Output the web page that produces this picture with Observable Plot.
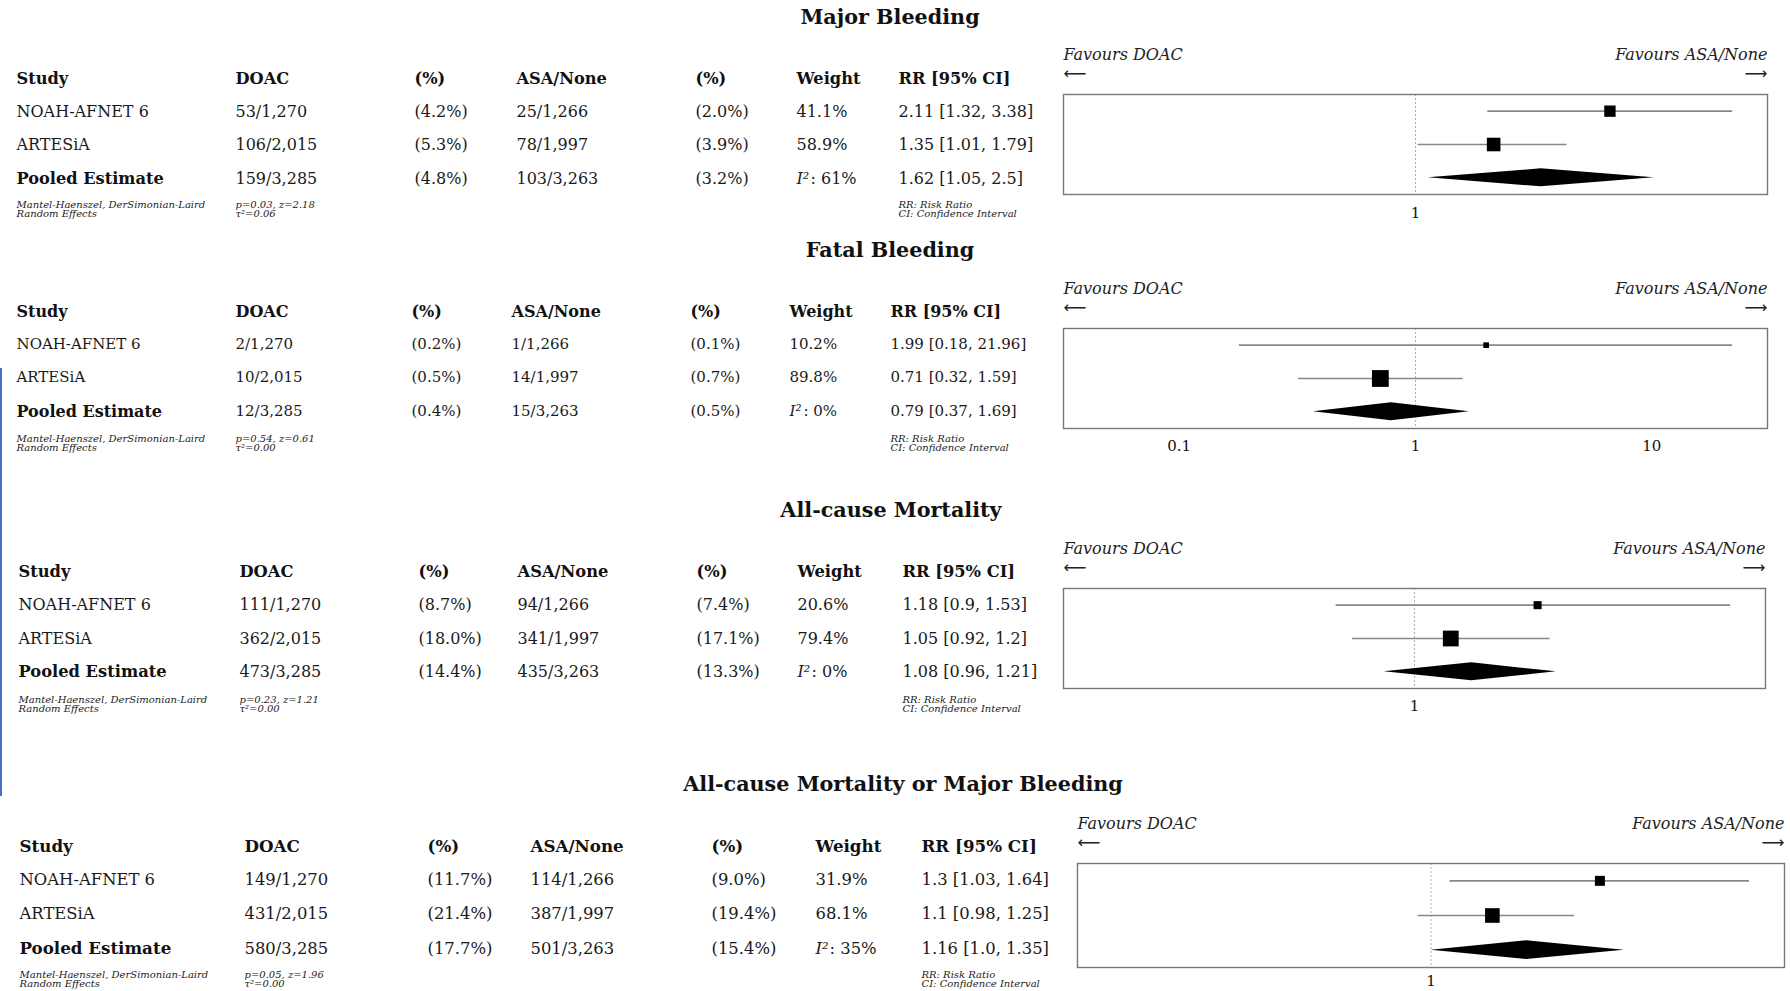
<!DOCTYPE html>
<html><head><meta charset="utf-8">
<script src="https://cdn.jsdelivr.net/npm/d3@7"></script>
<script src="https://cdn.jsdelivr.net/npm/@observablehq/plot@0.6"></script>
<style>
body{margin:0;background:#fff;}
#fig{position:relative;width:1790px;height:991px;background:#fff;overflow:hidden;font-family:"DejaVu Serif",serif;color:#111;}
.title{position:absolute;font-weight:bold;font-size:20.7px;transform:translate(-50%,-50%);white-space:nowrap;}
.abs{position:absolute;}
</style></head><body><div id="fig"></div>
<script>
// ---------- data ----------
const outcomes = ["Major Bleeding", "Fatal Bleeding", "All-cause Mortality", "All-cause Mortality or Major Bleeding"];
const studies = ["NOAH-AFNET 6", "ARTESiA", "Pooled Estimate"];
const headers = ["Study", "DOAC", "(%)", "ASA/None", "(%)", "Weight", "RR [95% CI]"];
const doacTotals = [1270, 2015, 3285];
const asaTotals = [1266, 1997, 3263];
const doacEvents = [[53, 106, 159], [2, 10, 12], [111, 362, 473], [149, 431, 580]];
const asaEvents = [[25, 78, 103], [1, 14, 15], [94, 341, 435], [114, 387, 501]];
const doacPct = [[4.2, 5.3, 4.8], [0.2, 0.5, 0.4], [8.7, 18.0, 14.4], [11.7, 21.4, 17.7]];
const asaPct = [[2.0, 3.9, 3.2], [0.1, 0.7, 0.5], [7.4, 17.1, 13.3], [9.0, 19.4, 15.4]];
const weights = [[41.1, 58.9], [10.2, 89.8], [20.6, 79.4], [31.9, 68.1]];
const i2 = [61, 0, 0, 35];
const rr = [[2.11, 1.35, 1.62], [1.99, 0.71, 0.79], [1.18, 1.05, 1.08], [1.3, 1.1, 1.16]];
const ciLow = [[1.32, 1.01, 1.05], [0.18, 0.32, 0.37], [0.9, 0.92, 0.96], [1.03, 0.98, 1.0]];
const ciHigh = [[3.38, 1.79, 2.5], [21.96, 1.59, 1.69], [1.53, 1.2, 1.21], [1.64, 1.25, 1.35]];
const pValues = [0.03, 0.54, 0.23, 0.05];
const zValues = [2.18, 0.61, 1.21, 1.96];
const tau2 = [0.06, 0.00, 0.00, 0.00];
const forestTicks = [[1], [0.1, 1, 10], [1], [1]];
const methodNote = "Mantel-Haenszel, DerSimonian-Laird\nRandom Effects";
const abbrevNote = "RR: Risk Ratio\nCI: Confidence Interval";
const favLeft = "Favours DOAC", favRight = "Favours ASA/None";

// ---------- layout (positions / styles) ----------
const layout = [
  {titleX: 890, titleY: 17, cols: [16, 235, 414, 516, 695, 796, 898], headerY: 78, rowY: [111, 144, 178], footY: 209, box: [1063, 1767, 94, 194], fs: 16, fsb: 16.2, tp: 13},
  {titleX: 890, titleY: 250, cols: [16, 235, 411, 511, 690, 789, 890], headerY: 311, rowY: [344, 377, 411], footY: 443, box: [1063, 1767, 328, 428], fs: 15, fsb: 16, tp: 12},
  {titleX: 891, titleY: 510, cols: [18, 239, 418, 517, 696, 797, 902], headerY: 571, rowY: [604, 638, 671], footY: 704, box: [1063, 1765, 588, 688], fs: 16, fsb: 16.3, tp: 12},
  {titleX: 903, titleY: 784, cols: [19, 244, 427, 530, 711, 815, 921], headerY: 846, rowY: [879, 913, 948], footY: 979, box: [1077, 1784, 863, 967], fs: 16.4, fsb: 16.7, tp: 8}
];

const fig = document.getElementById("fig");
const fmtN = d3.format(",");
const f = v => Number.isInteger(v) ? v.toFixed(1) : String(v);
const FONT = "DejaVu Serif";

// blue edge line seen in the reference
const blue = document.createElement("div");
blue.className = "abs";
Object.assign(blue.style, {left: "0px", top: "368px", width: "2px", height: "428px", background: "#4670c8"});
fig.appendChild(blue);

outcomes.forEach((name, i) => {
  const L = layout[i];
  // title
  const t = document.createElement("div");
  t.className = "title";
  t.textContent = name;
  t.style.left = L.titleX + "px";
  t.style.top = L.titleY + "px";
  fig.appendChild(t);

  // ----- table -----
  const top = L.headerY - 20;
  const h = L.footY + 16 - top;
  const boldCells = headers.map((s, c) => ({c, y: L.headerY - top, text: s}));
  const cells = [];
  studies.forEach((s, j) => {
    const y = L.rowY[j] - top;
    (j === 2 ? boldCells : cells).push({c: 0, y, text: s});
    cells.push({c: 1, y, text: doacEvents[i][j] + "/" + fmtN(doacTotals[j])});
    cells.push({c: 2, y, text: "(" + doacPct[i][j].toFixed(1) + "%)"});
    cells.push({c: 3, y, text: asaEvents[i][j] + "/" + fmtN(asaTotals[j])});
    cells.push({c: 4, y, text: "(" + asaPct[i][j].toFixed(1) + "%)"});
    if (j < 2) cells.push({c: 5, y, text: weights[i][j].toFixed(1) + "%"});
    cells.push({c: 6, y, text: `${f(rr[i][j])} [${f(ciLow[i][j])}, ${f(ciHigh[i][j])}]`});
  });
  const pooledY = L.rowY[2] - top;
  const foot = [
    {c: 0, y: L.footY - top, text: methodNote},
    {c: 1, y: L.footY - top, text: `p=${pValues[i].toFixed(2)}, z=${zValues[i].toFixed(2)}\nτ²=${tau2[i].toFixed(2)}`},
    {c: 6, y: L.footY - top, text: abbrevNote}
  ];
  const X = d => L.cols[d.c];
  const table = Plot.plot({
    width: 1060, height: h,
    margin: 0,
    x: {type: "identity", axis: null},
    y: {type: "identity", axis: null},
    style: {fontFamily: FONT, color: "#111", background: "transparent"},
    marks: [
      Plot.text(cells, {x: X, y: "y", text: "text", textAnchor: "start", fontSize: L.fs, fill: "#1a1a1a"}),
      Plot.text(boldCells, {x: X, y: "y", text: "text", textAnchor: "start", fontSize: L.fsb, fontWeight: "bold", fill: "#111"}),
      Plot.text([`I²`], {x: L.cols[5], y: pooledY, textAnchor: "start", fontSize: L.fs, fontStyle: "italic", fill: "#1a1a1a"}),
      Plot.text([`: ${i2[i]}%`], {x: L.cols[5], y: pooledY, dx: 14, textAnchor: "start", fontSize: L.fs, fill: "#1a1a1a"}),
      Plot.text(foot, {x: X, y: "y", text: "text", textAnchor: "start", fontSize: 10, fontStyle: "italic", lineHeight: 0.9, fill: "#222"})
    ]
  });
  table.classList.add("abs");
  table.style.left = "0px";
  table.style.top = top + "px";
  fig.appendChild(table);

  // ----- forest -----
  const [bx1, bx2, by1, by2] = L.box;
  const mT = 56, mB = 30, mL = 2, mR = 2;
  const trials = [0, 1].map(j => ({idx: j, rr: rr[i][j], lo: ciLow[i][j], hi: ciHigh[i][j], w: weights[i][j]}));
  const m = 1.11 * d3.max([...ciLow[i], ...ciHigh[i]], v => Math.abs(Math.log10(v)));
  const dHalf = 0.27;
  const diamond = [
    {x: ciLow[i][2], y1: 2, y2: 2},
    {x: rr[i][2], y1: 2 - dHalf, y2: 2 + dHalf},
    {x: ciHigh[i][2], y1: 2, y2: 2}
  ];
  const forest = Plot.plot({
    width: bx2 - bx1 + mL + mR,
    height: by2 - by1 + mT + mB,
    marginTop: mT, marginBottom: mB, marginLeft: mL, marginRight: mR,
    style: {fontFamily: FONT, fontSize: "15px", color: "#111", background: "transparent"},
    x: {type: "log", domain: [Math.pow(10, -m), Math.pow(10, m)], ticks: forestTicks[i], tickFormat: d => String(d), tickSize: 0, tickPadding: L.tp, label: null},
    y: {type: "linear", domain: [-0.5, 2.5], reverse: true, axis: null},
    r: {type: "identity"},
    marks: [
      Plot.ruleX([1], {stroke: "#999", strokeWidth: 0.8, strokeDasharray: "2,2"}),
      Plot.ruleY(trials, {y: "idx", x1: "lo", x2: "hi", stroke: "#888", strokeWidth: 1.6}),
      Plot.dot(trials, {x: "rr", y: "idx", r: d => Math.sqrt(d.w), symbol: "square", fill: "#000"}),
      Plot.areaY(diamond, {x: "x", y1: "y1", y2: "y2", fill: "#000", curve: "linear"}),
      Plot.frame({stroke: "#777", strokeWidth: 1.4}),
      Plot.text([favLeft], {frameAnchor: "top-left", dy: -46, textAnchor: "start", fontStyle: "italic", fontSize: 16, fill: "#222"}),
      Plot.text([favRight], {frameAnchor: "top-right", dy: -46, textAnchor: "end", fontStyle: "italic", fontSize: 16, fill: "#222"}),
      Plot.text(["⟵"], {frameAnchor: "top-left", dy: -27, textAnchor: "start", fontSize: 16, fill: "#222", fontFamily: "DejaVu Sans"}),
      Plot.text(["⟶"], {frameAnchor: "top-right", dy: -27, textAnchor: "end", fontSize: 16, fill: "#222", fontFamily: "DejaVu Sans"})
    ]
  });
  forest.classList.add("abs");
  forest.style.left = (bx1 - mL) + "px";
  forest.style.top = (by1 - mT) + "px";
  fig.appendChild(forest);
});
</script>
</body></html>
